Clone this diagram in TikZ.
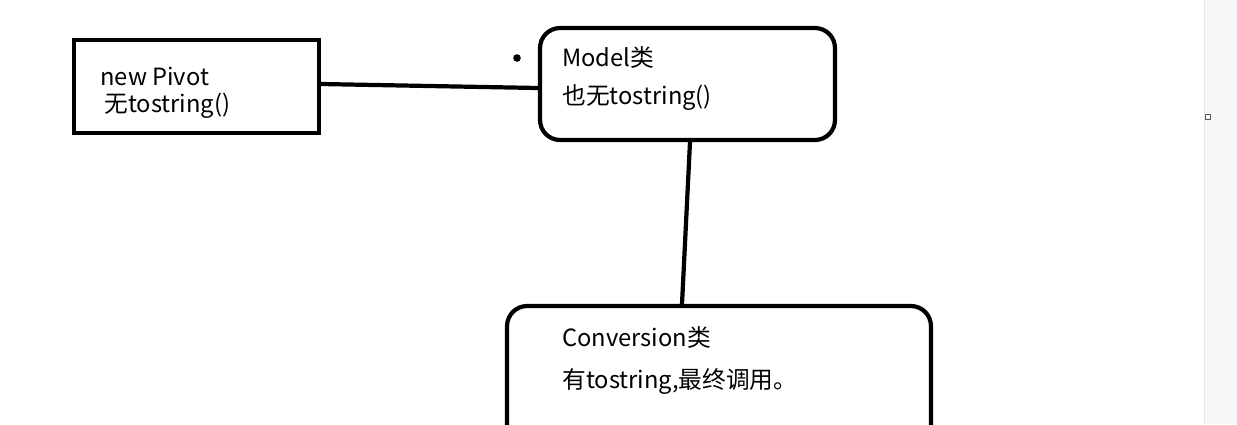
\documentclass[tikz,border=0pt]{standalone}
\usepackage{fontspec}
\setmainfont{Noto Sans CJK SC}
\usepackage{tikz}
\usetikzlibrary{positioning}

\definecolor{paneGray}{HTML}{F7F7F7}
\definecolor{paneEdge}{HTML}{E6E6E6}

\begin{document}
\begin{tikzpicture}[x=0.02cm, y=-0.02cm,
      box/.style={draw, line width=2.4pt, minimum width=#1},
      rbox/.style={box=#1, rounded corners=0.4cm},
      label/.style={anchor=west, inner sep=0pt, font=\fontsize{13.5}{16}\selectfont},
      link/.style={line width=2.4pt}]
      \useasboundingbox (0,0) rectangle (1237,424);
      \clip (0,0) rectangle (1237,424);
      % side pane of the screenshot
      \fill[paneGray] (1204,0) rectangle (1237,424);
      \draw[paneEdge] (1204,0) -- (1204,424);
      \draw[black!65, line width=0.5pt] (1205,114) rectangle (1210,119);
      % boxes
      \node[box=4.9cm, minimum height=1.86cm] (pivot) at (196.5,86.5) {};
      \node[rbox=5.9cm, minimum height=2.24cm] (model) at (687.5,84) {};
      \node[rbox=8.48cm, minimum height=2.88cm] (conv) at (719,378) {};
      \fill (517,58) circle (3.8);
      % texts
      \node[label] (pivotA) at (100,76) {new Pivot};
      \node[label] (pivotB) at (104,106) {无tostring()};
      \node[label] (modelA) at (562,57) {Model类};
      \node[label] (modelB) at (562,98) {也无tostring()};
      \node[label] (convA) at (562,337) {Conversion类};
      \node[label] (convB) at (562,381) {有tostring,最终调用。};
      % connectors
      \draw[link] ([yshift=0.05cm]pivot.east) -- ([yshift=-0.08cm]model.west);
      \draw[link] ([xshift=0.05cm]model.south) -- ([xshift=-0.74cm]conv.north);
    \end{tikzpicture}
\end{document}
